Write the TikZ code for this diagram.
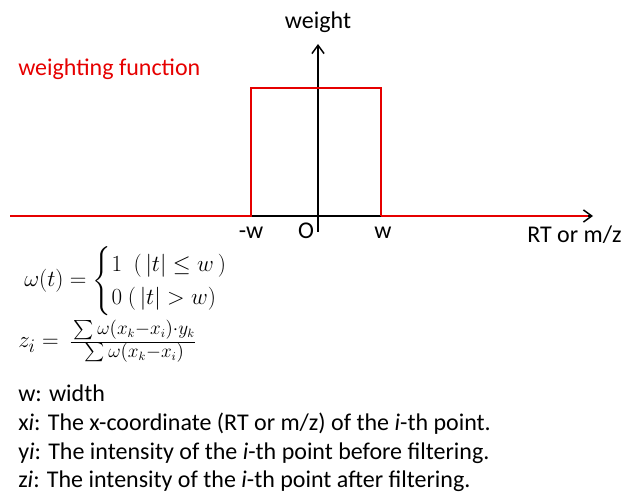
\documentclass[tikz,border=0pt]{standalone}
\usepackage{amsmath}
\usepackage{fontspec}
\setmainfont{Carlito}
\usetikzlibrary{arrows.meta,positioning}
\definecolor{fnred}{RGB}{230,0,0}

\begin{document}
\begin{tikzpicture}[
  x=0.75pt, y=-0.75pt,
  lbl/.style={inner sep=0pt, font=\fontsize{18}{21}\selectfont},
  eq/.style={inner sep=0pt, font=\fontsize{19}{22}\selectfont},
  axis/.style={-{Straight Barb[length=2.2mm,width=3.2mm]}, line width=1.1pt},
  window/.style={draw=fnred, line width=1.3pt},
]
  \useasboundingbox (0,0) rectangle (625,495);
  % axes
  \coordinate (xstart) at (10,216);
  \coordinate (xend) at (593,216);
  \coordinate (ystart) at (318,232);
  \coordinate (yend) at (318,44);
  \draw[axis] (xstart) -- (xend);
  \draw[axis] (ystart) -- (yend);
  % rectangular window
  \coordinate (lo) at (251,216);
  \coordinate (hi) at (381,216);
  \coordinate (lotop) at (251,88);
  \coordinate (hitop) at (381,88);
  \draw[window] (xstart) -- (lo) -- (lotop) -- (hitop) -- (hi);
  \draw[window] (hi) -- (588,216);
  % labels
  \node[lbl, anchor=base] (weight) at (318,29) {weight};
  \node[lbl, anchor=base west, text=fnred] (wfunc) at (18,76) {weighting function};
  \node[lbl, anchor=base] (mw) at (251,239) {-w};
  \node[lbl, anchor=base] (orig) at (306,239) {O};
  \node[lbl, anchor=base] (pw) at (383,239) {w};
  \node[lbl, anchor=base west] (rt) at (527,243) {RT or m/z};
  % formulas
  \node[eq, anchor=west] (omega) at (24,281)
    {$\omega(t)=\begin{cases}1\ \ (\,|t|\le w\,)\\[-2pt] 0\ (\,|t|>w)\end{cases}$};
  \node[eq, anchor=west] (zi) at (18,341)
    {$z_i=\,\genfrac{}{}{0.4pt}{}{\rule[-5pt]{0pt}{0pt}\sum\omega(x_k-x_i)\cdot y_k}{\rule{0pt}{10pt}\sum\omega(x_k-x_i)}$};
  % legend
  \node[lbl, anchor=base west] (lw) at (18,402) {w: width};
  \node[lbl, anchor=base west] (lx) at (18,430) {x\textit{i}: The x-coordinate (RT or m/z) of the \textit{i}-th point.};
  \node[lbl, anchor=base west] (ly) at (18,459) {y\textit{i}: The intensity of the \textit{i}-th point before filtering.};
  \node[lbl, anchor=base west] (lz) at (18,487) {z\textit{i}: The intensity of the \textit{i}-th point after filtering.};
\end{tikzpicture}
\end{document}
